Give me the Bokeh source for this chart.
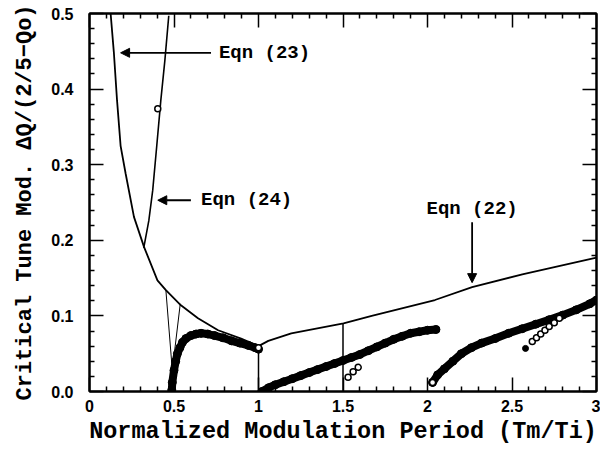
from bokeh.plotting import figure
from bokeh.models import (Range1d, LinearAxis, FixedTicker, Arrow, NormalHead, Label,
                          ColumnDataSource, CustomJSTickFormatter)
from bokeh.embed import file_html
from bokeh.resources import INLINE

# ---------------- data ----------------
x_ticks = [0, 0.5, 1, 1.5, 2, 2.5, 3]
x_tick_labels = ["0", "0.5", "1", "1.5", "2", "2.5", "3"]
x_minor = [0.1, 0.2, 0.3, 0.4, 0.6, 0.7, 0.8, 0.9, 1.1, 1.2, 1.3, 1.4, 1.6, 1.7, 1.8, 1.9,
           2.1, 2.2, 2.3, 2.4, 2.6, 2.7, 2.8, 2.9]
y_ticks = [0.0, 0.1, 0.2, 0.3, 0.4, 0.5]
y_tick_labels = ["0.0", "0.1", "0.2", "0.3", "0.4", "0.5"]
y_minor = [0.02, 0.04, 0.06, 0.08, 0.12, 0.14, 0.16, 0.18, 0.22, 0.24, 0.26, 0.28,
           0.32, 0.34, 0.36, 0.38, 0.42, 0.44, 0.46, 0.48]

# Eqn (23)/(22) envelope curve
curve_a_x = [0.125, 0.144, 0.163, 0.184, 0.214, 0.263, 0.323, 0.402, 0.452, 0.541, 0.642,
             0.761, 0.897, 1.0, 1.058, 1.194, 1.503, 1.67, 2.044, 2.264, 2.561, 3.0]
curve_a_y = [0.5, 0.449, 0.385, 0.325, 0.288, 0.231, 0.191, 0.147, 0.134, 0.114, 0.097,
             0.081, 0.070, 0.060, 0.067, 0.077, 0.090, 0.100, 0.121, 0.138, 0.155, 0.177]
# Eqn (24) curve
curve_b_x = [0.321, 0.351, 0.374, 0.398, 0.422, 0.446, 0.469]
curve_b_y = [0.190, 0.226, 0.266, 0.325, 0.385, 0.438, 0.497]
# thin V near 0.5
v_x = [0.452, 0.49, 0.537]
v_y = [0.134, 0.028, 0.116]
# vertical connecting lines
vl_x = [1.0, 1.5]
vl_top = [0.060, 0.090]
vl_bot = [0.0, 0.0]

# simulation points (dense bands)
s1_x = [0.487, 0.49, 0.50, 0.51, 0.52, 0.535, 0.55, 0.57, 0.60, 0.63, 0.66, 0.70, 0.74,
        0.79, 0.84, 0.89, 0.94, 0.98, 1.0]
s1_y = [0.002, 0.012, 0.028, 0.040, 0.050, 0.058, 0.065, 0.070, 0.074, 0.076, 0.077, 0.076,
        0.074, 0.071, 0.067, 0.064, 0.061, 0.058, 0.056]
s2_x = [1.02, 1.06, 1.10, 1.15, 1.20, 1.25, 1.30, 1.35, 1.40, 1.45, 1.50, 1.55, 1.60, 1.65,
        1.70, 1.75, 1.80, 1.85, 1.90, 1.95, 2.00, 2.05]
s2_y = [0.0, 0.005, 0.009, 0.013, 0.017, 0.021, 0.025, 0.029, 0.033, 0.037, 0.041, 0.045,
        0.049, 0.054, 0.059, 0.064, 0.069, 0.073, 0.077, 0.079, 0.081, 0.082]
s3_x = [2.03, 2.06, 2.10, 2.15, 2.20, 2.26, 2.32, 2.40, 2.48, 2.56, 2.64, 2.72, 2.80, 2.88,
        2.96, 3.0]
s3_y = [0.012, 0.022, 0.030, 0.040, 0.050, 0.058, 0.064, 0.070, 0.077, 0.083, 0.089, 0.095,
        0.101, 0.108, 0.116, 0.121]
# sparse open circles
sp_x = [0.404, 1.0, 1.53, 1.56, 1.59, 2.03, 2.62, 2.645, 2.67, 2.695, 2.72, 2.75, 2.78]
sp_y = [0.374, 0.058, 0.019, 0.026, 0.032, 0.012, 0.066, 0.071, 0.076, 0.081, 0.086, 0.091,
        0.097]
dot_x = [2.58]
dot_y = [0.057]

# annotations
ann_text = ["Eqn (23)", "Eqn (24)", "Eqn (22)"]
ann_tx = [0.766, 0.66, 2.264]
ann_ty = [0.448, 0.253, 0.242]
ann_align = ["left", "left", "center"]
arr_x0 = [0.719, 0.60, 2.264]
arr_y0 = [0.448, 0.253, 0.224]
arr_x1 = [0.184, 0.404, 2.264]
arr_y1 = [0.448, 0.253, 0.144]

x_label = "Normalized Modulation Period (Tm/Ti)"
y_label = "Critical Tune Mod. \u0394Q/(2/5\u2212Qo)"

# ---------------- figure ----------------
p = figure(width=600, height=453, x_range=Range1d(0, 3), y_range=Range1d(0, 0.5),
           output_backend="svg", toolbar_location=None,
           min_border_left=89, min_border_right=4, min_border_top=13, min_border_bottom=62)
p.grid.visible = False
p.outline_line_color = "black"
p.outline_line_width = 2

mono = "Liberation Mono"
sans = "Liberation Sans"

p.xaxis.ticker = FixedTicker(ticks=x_ticks, minor_ticks=x_minor)
p.xaxis.major_label_overrides = {float(t): l for t, l in zip(x_ticks, x_tick_labels)}
p.yaxis.ticker = FixedTicker(ticks=y_ticks, minor_ticks=y_minor)
p.yaxis.major_label_overrides = {float(t): l for t, l in zip(y_ticks, y_tick_labels)}

for ax in [p.xaxis[0], p.yaxis[0]]:
    ax.major_tick_in = 14
    ax.major_tick_out = 0
    ax.minor_tick_in = 5
    ax.minor_tick_out = 0
    ax.major_tick_line_width = 1.5
    ax.minor_tick_line_width = 1.5
    ax.axis_line_width = 2
    ax.axis_line_color = "black"
    ax.major_tick_line_color = "black"
    ax.minor_tick_line_color = "black"
    ax.major_label_text_font = sans
    ax.major_label_text_font_style = "bold"
    ax.major_label_text_font_size = "16px"
    ax.major_label_text_color = "black"
    ax.axis_label_text_font = mono
    ax.axis_label_text_font_style = "bold"
    ax.axis_label_text_color = "black"

p.xaxis.major_label_standoff = 8
p.xaxis.axis_label = x_label
p.xaxis.axis_label_text_font_size = "23.5px"
p.xaxis.axis_label_standoff = 3
p.yaxis.major_label_standoff = 16
p.yaxis.axis_label = y_label
p.yaxis.axis_label_text_font_size = "22px"
p.yaxis.axis_label_standoff = 10

for loc, tk, mn in [("above", x_ticks, x_minor), ("right", y_ticks, y_minor)]:
    ax = LinearAxis(ticker=FixedTicker(ticks=tk, minor_ticks=mn),
                    formatter=CustomJSTickFormatter(code="return ''"),
                    major_tick_in=14, major_tick_out=0, minor_tick_in=5, minor_tick_out=0,
                    major_tick_line_width=1.5, minor_tick_line_width=1.5, axis_line_width=2,
                    axis_line_color="black", major_tick_line_color="black",
                    minor_tick_line_color="black",
                    major_label_text_font_size="0px", major_label_standoff=0)
    p.add_layout(ax, loc)

# curves
p.line(curve_a_x, curve_a_y, line_color="black", line_width=1.8)
p.line(curve_b_x, curve_b_y, line_color="black", line_width=1.6)
p.line(v_x, v_y, line_color="black", line_width=1.0)
p.segment(x0=vl_x, y0=vl_bot, x1=vl_x, y1=vl_top, line_color="black", line_width=1.5)

# dense simulation bands
for sx, sy in [(s1_x, s1_y), (s2_x, s2_y), (s3_x, s3_y)]:
    p.line(sx, sy, line_color="black", line_width=8, line_cap="round")
    p.scatter(sx, sy, marker="circle", size=8, line_color="black", fill_color="black")

p.scatter(sp_x, sp_y, marker="circle", size=6, line_color="black", line_width=1.5,
          fill_color="white")
p.scatter(dot_x, dot_y, marker="circle", size=6, line_color="black", fill_color="black")

# arrows
arr_src = ColumnDataSource(dict(x0=arr_x0, y0=arr_y0, x1=arr_x1, y1=arr_y1))
p.add_layout(Arrow(end=NormalHead(size=9, fill_color="black", line_color="black"),
                   x_start="x0", y_start="y0", x_end="x1", y_end="y1",
                   line_width=1.8, source=arr_src))

for t, tx, ty, al in zip(ann_text, ann_tx, ann_ty, ann_align):
    p.add_layout(Label(x=tx, y=ty, text=t, text_font=mono, text_font_size="19px",
                       text_font_style="bold", text_align=al, text_baseline="middle",
                       text_color="black"))

open("out.html", "w").write(file_html(p, INLINE))
